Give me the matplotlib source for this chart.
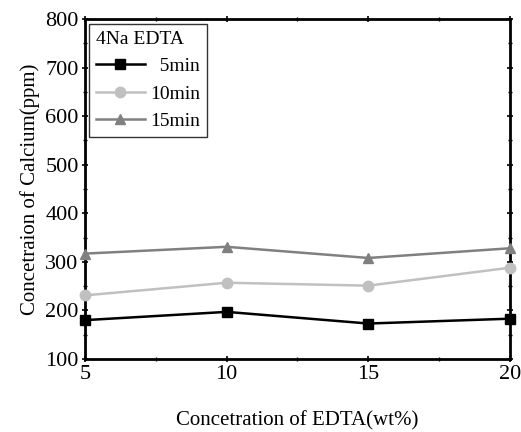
import matplotlib
matplotlib.use("Agg")
from matplotlib import pyplot
from matplotlib.ticker import MultipleLocator

edta_wt = [5, 10, 15, 20]
calcium_5min = [180, 197, 173, 183]
calcium_10min = [231, 257, 251, 288]
calcium_15min = [317, 331, 308, 328]

pyplot.rcParams['font.family'] = ['Liberation Serif', 'DejaVu Serif']

fig = pyplot.figure(figsize=(5.21, 4.32), dpi=100, facecolor='w')
ax = fig.add_axes([0.163, 0.169, 0.816, 0.787])

ax.plot(edta_wt, calcium_5min, color='black', lw=1.8, marker='s', ms=7.5, label='  5min', clip_on=False, zorder=5)
ax.plot(edta_wt, calcium_10min, color='#c0c0c0', lw=1.8, marker='o', ms=7.5, label='10min', clip_on=False, zorder=4)
ax.plot(edta_wt, calcium_15min, color='#808080', lw=1.8, marker='^', ms=7.5, label='15min', clip_on=False, zorder=3)

ax.set_xlim(5, 20)
ax.set_ylim(100, 800)
ax.set_xticks([5, 10, 15, 20])
ax.set_yticks(range(100, 801, 100))
ax.xaxis.set_minor_locator(MultipleLocator(2.5))
ax.yaxis.set_minor_locator(MultipleLocator(50))
ax.tick_params(which='major', direction='inout', length=5, width=1.2, labelsize=16,
               top=True, right=True, pad=2)
ax.tick_params(which='minor', direction='inout', length=3, width=1,
               top=True, right=True)
for s in ax.spines.values():
    s.set_linewidth(2)

ax.set_xlabel('Concetration of EDTA(wt%)', fontsize=15, labelpad=19)
ax.set_ylabel('Concetraion of Calcium(ppm)', fontsize=15, labelpad=4)

leg = ax.legend(title='4Na EDTA', loc='upper left', fontsize=14, title_fontsize=14,
                frameon=True, fancybox=False, edgecolor='black', borderpad=0.35,
                handlelength=2.5, handletextpad=0.3, labelspacing=0.5,
                borderaxespad=0, bbox_to_anchor=(0.01, 0.985))
leg.get_frame().set_linewidth(1)
leg._legend_box.align = 'left'

pyplot.savefig('out.png', dpi=100)
